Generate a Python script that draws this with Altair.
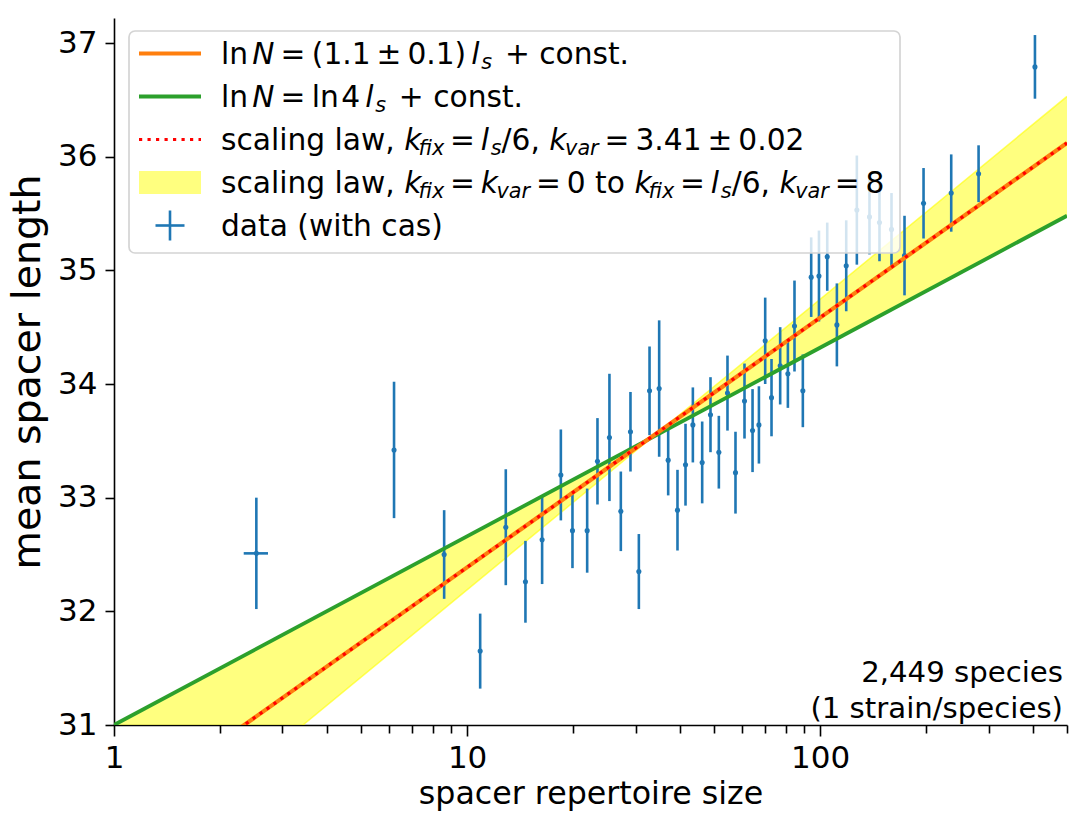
import altair as alt
import pandas as pd

# ---------------------------------------------------------------- data
# binned genomes: spacer repertoire size, mean spacer length, standard error
repertoire = [2.53, 6.21, 8.61, 10.89, 12.87, 14.63, 16.31, 18.43, 19.88, 21.88,
              23.40, 25.30, 27.25, 29.02, 30.65, 32.86, 34.99, 37.11, 39.43, 41.55,
              43.59, 46.32, 48.90, 51.64, 54.63, 57.56, 61.04, 64.33, 67.06, 69.86,
              72.80, 77.03, 81.0, 84.57, 89.3, 94.3, 99.2, 104.7, 111.5, 118.5,
              127.0, 137.9, 147.2, 159.2, 173.3, 196.2, 235.0, 280.9, 405.7]
mean_length = [32.51, 33.42, 32.50, 31.65, 32.74, 32.26, 32.63, 33.20, 32.71, 32.71,
               33.32, 33.53, 32.88, 33.58, 32.35, 33.94, 33.96, 33.33, 32.89, 33.29,
               33.64, 33.31, 33.73, 33.40, 33.92, 33.22, 33.85, 33.59, 33.64, 34.38,
               33.88, 34.16, 34.09, 34.51, 33.94, 34.94, 34.95, 35.12, 34.52, 35.04,
               35.53, 35.47, 35.42, 35.36, 35.13, 35.59, 35.68, 35.85, 36.79]
std_err = [0.49, 0.60, 0.39, 0.33, 0.51, 0.36, 0.39, 0.40, 0.33, 0.37,
           0.38, 0.56, 0.35, 0.35, 0.33, 0.39, 0.60, 0.31, 0.355, 0.36,
           0.33, 0.36, 0.33, 0.32, 0.33, 0.36, 0.33, 0.365, 0.34, 0.38,
           0.34, 0.34, 0.30, 0.40, 0.32, 0.35, 0.40, 0.30, 0.365, 0.40,
           0.48, 0.33, 0.34, 0.32, 0.35, 0.31, 0.34, 0.25, 0.28]
# horizontal error of the smallest bin
xerr_N = [2.53]
xerr_lo = [2.33]
xerr_hi = [2.73]
xerr_len = [32.51]

# fitted slope, ln N = (1.1 +/- 0.1) l_s + const.
fit_N = [1, 500]
fit_len = [30.19, 36.12]
# ln N = ln 4 l_s + const.
ln4_N = [1, 500]
ln4_len = [31.0, 35.48]
# scaling-law band: k_fix = k_var = 0 (lower slope) to k_fix = l_s/6, k_var = 8
band_N = [1, 33.7, 500]
band_flat = [31.0, 33.54, 35.48]
band_steep = [29.63, 33.54, 36.53]

x_ticks = [1, 2, 3, 4, 5, 6, 7, 8, 9, 10, 20, 30, 40, 50, 60, 70, 80, 90,
           100, 200, 300, 400, 500]
y_ticks = [31, 32, 33, 34, 35, 36, 37]

# ---------------------------------------------------------------- styles
FONT = "DejaVu Sans"
FS = 29.7          # legend / annotation
TICK_FS = 31
XT_FS, YT_FS = 31.7, 39.5
BLUE, ORANGE, GREEN = "#1f77b4", "#ff7f0e", "#2ca02c"
W, H = 953, 707
PAD_L, PAD_T = 114, 18

x_axis = alt.Axis(values=x_ticks, grid=False, labelOverlap=False, labelFlush=False,
                  labelExpr="(datum.value == 1 || datum.value == 10 || datum.value == 100) ? format(datum.value, 'd') : ''",
                  tickSize={"condition": {"test": "datum.value == 1 || datum.value == 10 || datum.value == 100",
                                          "value": 11}, "value": 8},
                  title="spacer repertoire size", titleFontSize=XT_FS,
                  labelPadding=7, titlePadding=5)
y_axis = alt.Axis(values=y_ticks, grid=False, tickSize=9, labelPadding=8,
                  title="mean spacer length", titleFontSize=YT_FS, titlePadding=10)
x_scale = alt.Scale(type="log", domain=[1, 500], nice=False)
y_scale = alt.Scale(domain=[31, 37.22], nice=False, zero=False)


def X(field):
    return alt.X(field, type="quantitative", scale=x_scale, axis=x_axis)


def Y(field):
    return alt.Y(field, type="quantitative", scale=y_scale, axis=y_axis)


data = pd.DataFrame({"N": repertoire, "len": mean_length, "err": std_err})
data["lo"] = data["len"] - data["err"]
data["hi"] = data["len"] + data["err"]
xerr = pd.DataFrame({"N": xerr_lo, "N2": xerr_hi, "len": xerr_len})
fit = pd.DataFrame({"N": fit_N, "len": fit_len})
ln4 = pd.DataFrame({"N": ln4_N, "len": ln4_len})
band = pd.DataFrame({"N": band_N, "len": band_flat, "len2": band_steep})
steep_edge = band[["N", "len2"]].rename(columns={"len2": "len"})

band_area = alt.Chart(band).mark_area(color="#ffff00", opacity=0.5, clip=True).encode(
    x=X("N"), y=Y("len"), y2="len2")
band_edge = alt.Chart(steep_edge).mark_line(color="#ffff00", opacity=0.6, strokeWidth=1.5,
                                            clip=True).encode(x=X("N"), y=Y("len"))
vbars = alt.Chart(data).mark_rule(color=BLUE, strokeWidth=2.6).encode(
    x=X("N"), y=Y("lo"), y2="hi")
hbars = alt.Chart(xerr).mark_rule(color=BLUE, strokeWidth=2.6).encode(
    x=X("N"), x2="N2", y=Y("len"))
dots = alt.Chart(data).mark_circle(color=BLUE, size=26, opacity=1).encode(
    x=X("N"), y=Y("len"))
green_line = alt.Chart(ln4).mark_line(color=GREEN, strokeWidth=3.8, clip=True).encode(
    x=X("N"), y=Y("len"))
orange_line = alt.Chart(fit).mark_line(color=ORANGE, strokeWidth=4.2, clip=True).encode(
    x=X("N"), y=Y("len"))
red_dots = alt.Chart(fit).mark_line(color="#ff0000", strokeWidth=3.2, strokeDash=[3.2, 5.3],
                                    clip=True).encode(x=X("N"), y=Y("len"))

# ---------------------------------------------------------------- legend
one = pd.DataFrame({"k": [0]})
LB = dict(x0=129 - PAD_L, x1=900 - PAD_L, y0=31 - PAD_T, y1=253 - PAD_T)
rows_y = [53.5 - PAD_T + 43 * i for i in range(5)]
h0, h1 = 139 - PAD_L, 201 - PAD_L

legend_box = alt.Chart(one).mark_rect(fill="white", fillOpacity=0.8, stroke="#d4d4d4",
                                      strokeWidth=1.7, cornerRadius=6).encode(
    x=alt.value(LB["x0"]), x2=alt.value(LB["x1"]), y=alt.value(LB["y0"]), y2=alt.value(LB["y1"]))


def handle_line(row, **style):
    return alt.Chart(one).mark_rule(**style).encode(
        x=alt.value(h0), x2=alt.value(h1), y=alt.value(rows_y[row]))


leg_orange = handle_line(0, color=ORANGE, strokeWidth=4.2)
leg_green = handle_line(1, color=GREEN, strokeWidth=4.2)
leg_red = handle_line(2, color="#ff0000", strokeWidth=3.2, strokeDash=[3.2, 5.3])
leg_yellow = alt.Chart(one).mark_rect(color="#ffff00", opacity=0.5).encode(
    x=alt.value(h0), x2=alt.value(h1), y=alt.value(rows_y[3] - 11.5), y2=alt.value(rows_y[3] + 11.5))
cx = 170 - PAD_L
leg_err_v = alt.Chart(one).mark_rule(color=BLUE, strokeWidth=2.6).encode(
    x=alt.value(cx), y=alt.value(rows_y[4] - 15), y2=alt.value(rows_y[4] + 15))
leg_err_h = alt.Chart(one).mark_rule(color=BLUE, strokeWidth=2.6).encode(
    x=alt.value(cx - 14.5), x2=alt.value(cx + 14.5), y=alt.value(rows_y[4]))

# DejaVu Sans advance widths (1/1000 em) used to set the math pieces side by side
ADV = {' ': 318, '(': 390, ')': 390, '.': 318, ',': 318, '/': 337, '±': 838,
       '=': 838, '+': 838, 'a': 613, 'c': 550, 'd': 635, 'e': 615, 'f': 352, 'g': 635,
       'h': 634, 'i': 278, 'k': 579, 'l': 278, 'n': 634, 'o': 612, 'r': 411, 's': 521,
       't': 392, 'v': 592, 'w': 818, 'x': 592, 'N': 748}
for d in "0123456789":
    ADV[d] = 636

G = "gap"
legend_rows = [
    [("ln", "r"), (0.14, G), ("N", "i"), (0.2, G), ("=", "r"), (0.22, G), ("(1.1", "r"),
     (0.2, G), ("±", "r"), (0.2, G), ("0.1)", "r"), (0.17, G), ("l", "i"), (0.06, G),
     ("s", "sub"), (0.43, G), ("+ const.", "r")],
    [("ln", "r"), (0.14, G), ("N", "i"), (0.2, G), ("=", "r"), (0.22, G), ("ln", "r"),
     (0.08, G), ("4", "r"), (0.17, G), ("l", "i"), (0.06, G), ("s", "sub"), (0.43, G),
     ("+ const.", "r")],
    [("scaling law,", "r"), (0.318, G), ("k", "i"), (-0.1, G), ("fix", "sub"), (0.2, G),
     ("=", "r"), (0.2, G), ("l", "i"), (0.06, G), ("s", "sub"), ("/6,", "r"), (0.318, G),
     ("k", "i"), (-0.05, G), ("var", "sub"), (0.2, G), ("=", "r"), (0.2, G), ("3.41", "r"),
     (0.2, G), ("±", "r"), (0.2, G), ("0.02", "r")],
    [("scaling law,", "r"), (0.318, G), ("k", "i"), (-0.1, G), ("fix", "sub"), (0.2, G),
     ("=", "r"), (0.2, G), ("k", "i"), (-0.05, G), ("var", "sub"), (0.2, G), ("=", "r"),
     (0.2, G), ("0", "r"), (0.318, G), ("to", "r"), (0.318, G), ("k", "i"), (-0.1, G),
     ("fix", "sub"), (0.2, G), ("=", "r"), (0.2, G), ("l", "i"), (0.06, G), ("s", "sub"),
     ("/6,", "r"), (0.318, G), ("k", "i"), (-0.05, G), ("var", "sub"), (0.2, G), ("=", "r"),
     (0.2, G), ("8", "r")],
    [("data (with cas)", "r")],
]

pieces = []
for i, row in enumerate(legend_rows):
    x = 221 - PAD_L
    base = rows_y[i] + 10
    for text, kind in row:
        if kind == G:
            x += text * FS
            continue
        size = FS * 0.7 if kind == "sub" else FS
        pieces.append({"t": text, "px": x, "py": base + (0.2 * FS if kind == "sub" else 0),
                       "fs": size, "italic": kind != "r"})
        x += sum(ADV[c] for c in text) / 1000 * size
pieces = pd.DataFrame(pieces)


def text_layer(df, style):
    return alt.Chart(df).mark_text(align="left", baseline="alphabetic", font=FONT,
                                   fontStyle=style, color="black").encode(
        x=alt.X("px:Q", scale=None, axis=None),
        y=alt.Y("py:Q", scale=None, axis=None),
        size=alt.Size("fs:Q", scale=None, legend=None),
        text="t:N")


leg_text_r = text_layer(pieces[~pieces["italic"]], "normal")
leg_text_i = text_layer(pieces[pieces["italic"]], "italic")

note = pd.DataFrame({"t": ["2,449 species", "(1 strain/species)"],
                     "px": [1063 - PAD_L] * 2, "py": [682 - PAD_T, 718 - PAD_T]})
note_text = alt.Chart(note).mark_text(align="right", baseline="alphabetic", font=FONT,
                                      fontSize=29.2, color="black").encode(
    x=alt.X("px:Q", scale=None, axis=None), y=alt.Y("py:Q", scale=None, axis=None), text="t:N")

chart = alt.layer(
    band_area, band_edge, vbars, hbars, dots, green_line, orange_line, red_dots,
    legend_box, leg_orange, leg_green, leg_red, leg_yellow, leg_err_v, leg_err_h,
    leg_text_r, leg_text_i, note_text,
).properties(
    width=W, height=H, background="white",
    autosize=alt.AutoSizeParams(type="none"),
    padding={"left": PAD_L, "top": PAD_T, "right": 1069 - PAD_L - W, "bottom": 815 - PAD_T - H},
).configure_view(strokeWidth=0).configure_axis(
    labelFont=FONT, titleFont=FONT, labelFontSize=TICK_FS,
    titleFontWeight="normal", labelColor="black", titleColor="black",
    domainColor="black", tickColor="black", domainWidth=1.6, tickWidth=1.6,
)

chart.save("out.html", embed_options={"renderer": "svg", "actions": False})
